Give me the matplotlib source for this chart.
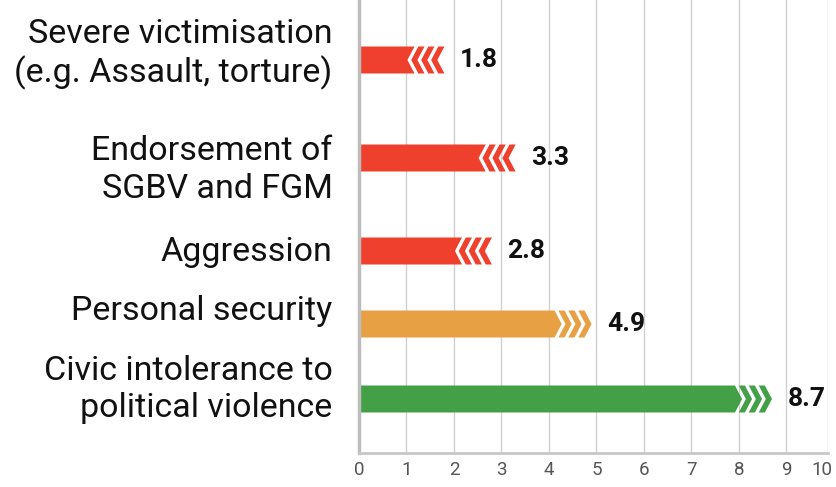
import matplotlib.pyplot as plt
from matplotlib.patches import Polygon
from matplotlib.transforms import ScaledTranslation

# datos
categorias = ['Severe victimisation\n(e.g. Assault, torture)',
              'Endorsement of\nSGBV and FGM',
              'Aggression',
              'Personal security',
              'Civic intolerance to\npolitical violence']
valores = [1.8, 3.3, 2.8, 4.9, 8.7]
direccion = ['left', 'left', 'left', 'right', 'right']
colores = ['#EF402D', '#EF402D', '#EF402D', '#E8A045', '#43A047']
ticks_x = [0, 1, 2, 3, 4, 5, 6, 7, 8, 9, 9.88]
etiquetas_x = ['0', '1', '2', '3', '4', '5', '6', '7', '8', '9', '10']

# posiciones verticales (en pixeles de la figura)
pos_barras = [60, 158, 251, 324, 399]
pos_textos = [54, 170, 252, 311, 389]
alto = 27

fig = plt.figure(figsize=(8.36, 4.87), dpi=100)
ax = fig.add_axes([359/836, 1 - 453/487, (828 - 359)/836, 453/487])
ax.set_xlim(0, 9.88)
ax.set_ylim(453, 0)

n, t, g, d = 3, 0.13, 0.08, 0.15

for y, v, dr, c in zip(pos_barras, valores, direccion, colores):
    top, bot = y - alto/2, y + alto/2
    b = v - (n*(t + g) + d)
    if dr == 'right':
        ax.add_patch(Polygon([(0, top), (b, top), (b + d, y), (b, bot), (0, bot)], color=c, lw=0))
        for k in range(n):
            x0 = b + g + k*(t + g)
            ax.add_patch(Polygon([(x0, top), (x0 + t, top), (x0 + t + d, y),
                                  (x0 + t, bot), (x0, bot), (x0 + d, y)], color=c, lw=0))
    else:
        ax.add_patch(Polygon([(0, top), (b + d, top), (b, y), (b + d, bot), (0, bot)], color=c, lw=0))
        for k in range(n):
            x0 = b + g + k*(t + g)
            ax.add_patch(Polygon([(x0 + d, top), (x0 + d + t, top), (x0 + t, y),
                                  (x0 + d + t, bot), (x0 + d, bot), (x0, y)], color=c, lw=0))
    ax.annotate(f'{v}', xy=(v, y), xytext=(11, 0), textcoords='offset points',
                ha='left', va='center', fontsize=19, fontweight='bold',
                family='Roboto', color='#111111')

for y, txt in zip(pos_textos, categorias):
    ax.annotate(txt, xy=(0, y), xytext=(-19, 0), textcoords='offset points',
                ha='right', va='center', multialignment='right',
                fontsize=24.5, family='Roboto', color='#111111', annotation_clip=False)

ax.set_xticks(ticks_x)
ax.set_xticklabels(etiquetas_x)
ax.set_yticks([])
ax.grid(axis='x', color='#d0d0d0', lw=1)
ax.set_axisbelow(True)
ax.tick_params(axis='x', length=0, pad=6, labelsize=13.5, labelcolor='#555555')
for lab in ax.get_xticklabels():
    lab.set_family('Roboto')
ultima = ax.get_xticklabels()[-1]
ultima.set_transform(ultima.get_transform() + ScaledTranslation(-6/100, 0, fig.dpi_scale_trans))
for s in ['top', 'right']:
    ax.spines[s].set_visible(False)
ax.spines['left'].set_color('#bdbdbd')
ax.spines['left'].set_linewidth(2.5)
ax.spines['bottom'].set_color('#c8c8c8')
ax.spines['bottom'].set_linewidth(2)

fig.savefig('out.png', dpi=100)
